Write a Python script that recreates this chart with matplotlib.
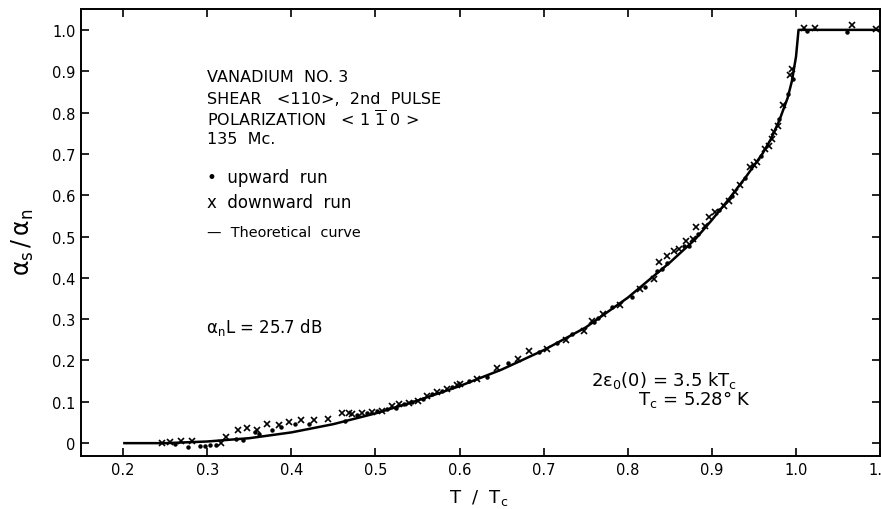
import matplotlib.pyplot as plt

plt.rcParams['font.family'] = 'DejaVu Sans'
plt.rcParams['mathtext.fontset'] = 'dejavusans'
plt.rcParams['mathtext.default'] = 'regular'

# theoretical curve (T/Tc, alpha_s/alpha_n)
theory_t = [0.20, 0.25, 0.30, 0.35, 0.40, 0.45, 0.50, 0.55, 0.60, 0.65, 0.70,
            0.75, 0.80, 0.85, 0.88, 0.90, 0.92, 0.94, 0.96, 0.97, 0.98, 0.99,
            0.995, 1.0, 1.003, 1.1]
theory_a = [0.0, 0.0, 0.004, 0.012, 0.026, 0.046, 0.072, 0.103, 0.138, 0.178,
            0.225, 0.28, 0.352, 0.437, 0.493, 0.54, 0.59, 0.643, 0.70, 0.735,
            0.78, 0.835, 0.875, 0.935, 1.0, 1.0]

# upward run (dots)
up_t = [0.262, 0.277, 0.292, 0.297, 0.303, 0.311, 0.334, 0.343, 0.357, 0.362,
        0.377, 0.388, 0.404, 0.421, 0.464,
        0.478, 0.490, 0.502, 0.514, 0.524, 0.534, 0.544, 0.556, 0.567, 0.579,
        0.591, 0.611, 0.633, 0.657, 0.694, 0.716, 0.734, 0.760,
        0.764, 0.781, 0.805, 0.821, 0.835, 0.841, 0.847, 0.867, 0.873, 0.883,
        0.909, 0.924, 0.939, 0.958, 0.980, 0.990, 0.996, 1.013, 1.061]
up_a = [-0.002, -0.010, -0.008, -0.007, -0.005, -0.005, 0.010, 0.008, 0.027, 0.022,
        0.032, 0.040, 0.046, 0.046, 0.054,
        0.068, 0.074, 0.078, 0.082, 0.084, 0.094, 0.100, 0.108, 0.119, 0.127,
        0.135, 0.151, 0.161, 0.195, 0.221, 0.242, 0.264, 0.292,
        0.304, 0.329, 0.353, 0.379, 0.417, 0.421, 0.437, 0.478, 0.478, 0.506,
        0.565, 0.599, 0.641, 0.696, 0.785, 0.845, 0.880, 0.998, 0.995]

# downward run (crosses)
down_t = [0.246, 0.256, 0.269, 0.282, 0.316, 0.322, 0.336, 0.347, 0.359, 0.371,
          0.385, 0.397, 0.412, 0.427, 0.443, 0.460, 0.468,
          0.472, 0.484, 0.496, 0.508, 0.520, 0.528, 0.540, 0.550, 0.561, 0.573,
          0.585, 0.597, 0.601, 0.621, 0.645, 0.670, 0.682, 0.704, 0.726, 0.748,
          0.758, 0.771, 0.791, 0.815, 0.831, 0.837, 0.847, 0.855, 0.861, 0.869,
          0.877, 0.881, 0.892, 0.897, 0.904, 0.914, 0.920, 0.928, 0.934, 0.945,
          0.950, 0.954, 0.963, 0.968, 0.972, 0.974, 0.978, 0.985, 0.993, 0.995,
          1.009, 1.023, 1.067, 1.095]
down_a = [0.0, 0.003, 0.006, 0.006, 0.0, 0.014, 0.032, 0.036, 0.032, 0.046,
          0.044, 0.050, 0.056, 0.056, 0.058, 0.074, 0.074,
          0.070, 0.073, 0.076, 0.078, 0.090, 0.094, 0.098, 0.102, 0.115, 0.123,
          0.132, 0.140, 0.143, 0.155, 0.183, 0.203, 0.223, 0.229, 0.250, 0.272,
          0.296, 0.312, 0.334, 0.373, 0.397, 0.439, 0.454, 0.466, 0.470, 0.490,
          0.494, 0.522, 0.526, 0.546, 0.559, 0.575, 0.587, 0.607, 0.625, 0.668,
          0.673, 0.681, 0.712, 0.720, 0.736, 0.752, 0.768, 0.817, 0.890, 0.905,
          1.004, 1.004, 1.012, 1.003]

xticks = [0.2, 0.3, 0.4, 0.5, 0.6, 0.7, 0.8, 0.9, 1.0, 1.1]
xlabels = ['0.2', '0.3', '0.4', '0.5', '0.6', '0.7', '0.8', '0.9', '1.0', '1.1']
yticks = [0.0, 0.1, 0.2, 0.3, 0.4, 0.5, 0.6, 0.7, 0.8, 0.9, 1.0]
ylabels = ['0', '0.1', '0.2', '0.3', '0.4', '0.5', '0.6', '0.7', '0.8', '0.9', '1.0']

fig = plt.figure(figsize=(8.81, 5.10), dpi=100)
ax = fig.add_axes([0.092, 0.104, 0.907, 0.876])

ax.plot(theory_t, theory_a, color='black', lw=1.8, solid_capstyle='butt')
ax.plot(up_t, up_a, ls='none', marker='o', ms=2.2, color='black')
ax.plot(down_t, down_a, ls='none', marker='x', ms=4.5, mew=1.2, color='black')

ax.set_xlim(0.15, 1.1)
ax.set_ylim(-0.031, 1.05)
ax.set_xticks(xticks)
ax.set_xticklabels(xlabels)
ax.set_yticks(yticks)
ax.set_yticklabels(ylabels)
ax.tick_params(direction='in', length=6, width=1.2, labelsize=10.5,
               top=True, right=True, pad=4)
for s in ax.spines.values():
    s.set_linewidth(1.4)

ax.set_xlabel('T  /  T$_c$', fontsize=13)
ax.xaxis.set_label_coords(0.498, -0.07)
ax.set_ylabel(r'$\alpha_s\,/\,\alpha_n$', fontsize=17)
ax.yaxis.set_label_coords(-0.056, 0.48)

txt = dict(fontsize=11.5, color='black', va='center', ha='left')
ax.text(0.300, 0.886, 'VANADIUM  NO. 3', **txt)
ax.text(0.300, 0.833, 'SHEAR   <110>,  2nd  PULSE', **txt)
ax.text(0.300, 0.785, r'POLARIZATION   < 1 $\overline{1}$ 0 >', **txt)
ax.text(0.300, 0.736, '135  Mc.', **txt)
ax.text(0.300, 0.644, '\u2022  upward  run', fontsize=12, va='center', ha='left')
ax.text(0.300, 0.584, 'x  downward  run', fontsize=12, va='center', ha='left')
ax.text(0.300, 0.511, '\u2014  Theoretical  curve', fontsize=10.4, va='center', ha='left')
ax.text(0.298, 0.283, r'$\alpha_n$L = 25.7 dB', fontsize=12, va='center', ha='left')
ax.text(0.756, 0.155, r'2$\epsilon_0$(0) = 3.5 kT$_c$', fontsize=13, va='center', ha='left')
ax.text(0.812, 0.109, r'T$_c$ = 5.28$\degree$ K', fontsize=13, va='center', ha='left')

fig.savefig('out.png', dpi=100)
